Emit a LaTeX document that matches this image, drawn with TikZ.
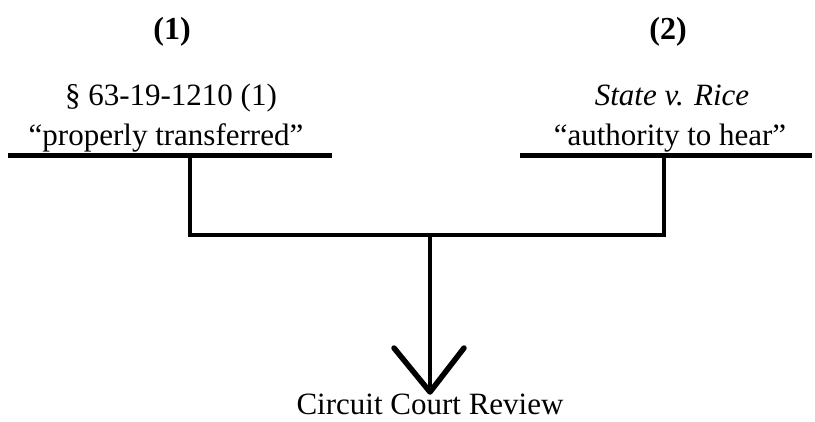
\documentclass[tikz,border=0pt]{standalone}
\usepackage{fontspec}
\setmainfont{Liberation Serif}
\begin{document}
\begin{tikzpicture}[x=1pt,y=-1pt,
  lbl/.style={font=\fontsize{31}{36}\selectfont, inner sep=0pt, anchor=base},
  hdr/.style={font=\fontsize{32}{36}\selectfont\bfseries, inner sep=0pt, anchor=base},
  bar/.style={line width=5pt},
  conn/.style={line width=4.5pt},
  arm/.style={line width=5.5pt, line cap=round, line join=round}]
\useasboundingbox (0,0) rectangle (815,421);
% headers
\node[hdr] (h1) at (172,39) {(1)};
\node[hdr] (h2) at (668,39) {(2)};
% left source
\node[lbl] (s1) at (171,105) {§ 63-19-1210 (1)};
\node[lbl] (q1) at (166,145) {“properly transferred”};
% right source
\node[lbl] (s2) at (672,105) {\itshape State v. Rice};
\node[lbl] (q2) at (670,145) {“authority to hear”};
% bottom label
\node[lbl, text depth=0pt] (res) at (430,414) {Circuit Court Review};
% bars under the sources
\coordinate (b1l) at (8,155);
\coordinate (b1r) at (332,155);
\coordinate (b2l) at (520,155);
\coordinate (b2r) at (812,155);
\draw[bar] (b1l) -- (b1r);
\draw[bar] (b2l) -- (b2r);
% connectors
\coordinate (v1) at (190,155);
\coordinate (v2) at (664,155);
\coordinate (j1) at (190,235);
\coordinate (j2) at (664,235);
\coordinate (jm) at (430,235);
\coordinate (tip) at (430,392);
\coordinate (al) at (394,348);
\coordinate (ar) at (464,348);
\draw[conn, line join=miter] (v1) -- (j1) -- (j2) -- (v2);
\draw[conn] (jm) -- (tip);
\draw[arm] (al) -- (tip) -- (ar);
\end{tikzpicture}
\end{document}
